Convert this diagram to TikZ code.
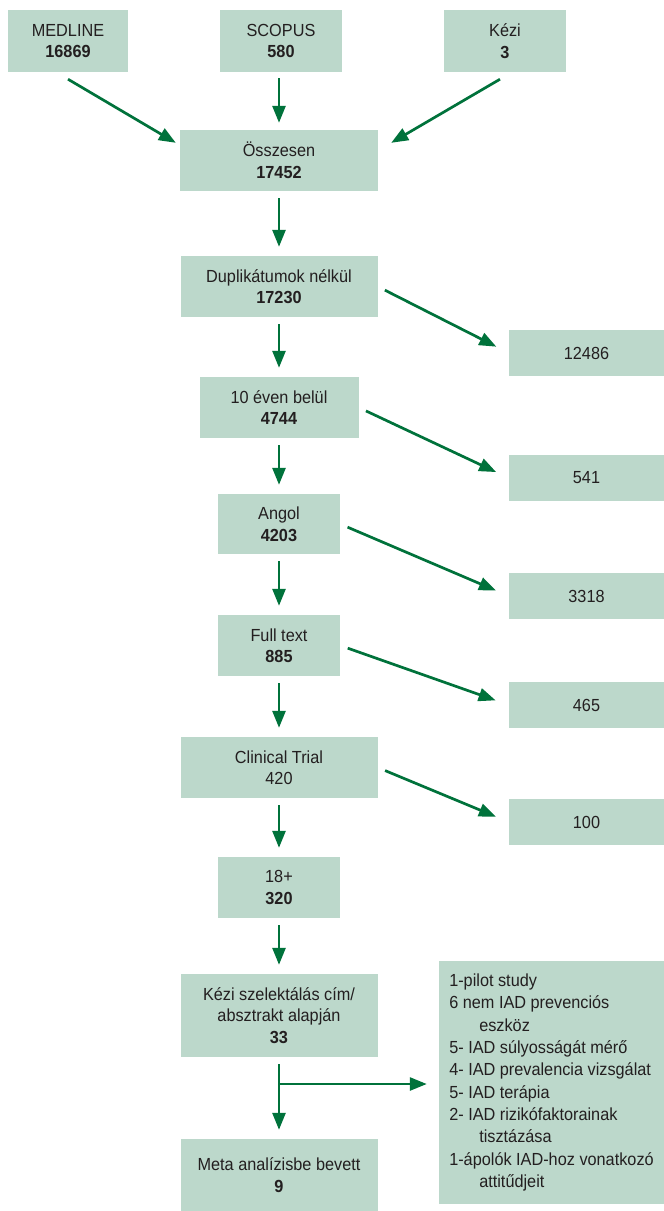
\documentclass[tikz,border=0pt]{standalone}
\usepackage{fontspec}
\setmainfont{Liberation Sans}[FakeStretch=0.93]
\usetikzlibrary{arrows.meta}
\definecolor{boxfill}{HTML}{BCD8CB}
\definecolor{arrowgreen}{HTML}{00723B}
\definecolor{boxtext}{HTML}{231F20}

\begin{document}
\begin{tikzpicture}[x=1pt,y=-1pt,
  box/.style={fill=boxfill,text=boxtext,align=center,inner sep=0pt,font=\fontsize{17.5pt}{21.5pt}\selectfont},
  arr/.style={draw=arrowgreen,line width=2.7pt,-{Triangle[length=17pt,width=13pt]},shorten <=7pt,shorten >=9pt},
  side/.style={arr,shorten <=8pt,shorten >=14pt}]
\useasboundingbox (0,0) rectangle (664,1211);
\node[box,minimum width=120pt,minimum height=62pt] (medline) at (68,41) {MEDLINE\\\textbf{16869}};
\node[box,minimum width=122pt,minimum height=62pt] (scopus) at (281,41) {SCOPUS\\\textbf{580}};
\node[box,minimum width=122pt,minimum height=62pt] (kezi) at (505,41) {Kézi\\\textbf{3}};
\node[box,minimum width=198pt,minimum height=61pt] (sum) at (279,160.5) {Összesen\\\textbf{17452}};
\node[box,minimum width=197pt,minimum height=61pt] (dup) at (279,286.5) {Duplikátumok nélkül\\\textbf{17230}};
\node[box,minimum width=159pt,minimum height=61pt] (ten) at (279,407.5) {10 éven belül\\\textbf{4744}};
\node[box,minimum width=122pt,minimum height=60pt] (angol) at (279,524) {Angol\\\textbf{4203}};
\node[box,minimum width=122pt,minimum height=61pt] (full) at (279,645.5) {Full text\\\textbf{885}};
\node[box,minimum width=197pt,minimum height=61pt] (clin) at (279,767.5) {Clinical Trial\\420};
\node[box,minimum width=122pt,minimum height=61pt] (adult) at (279,887.5) {18+\\\textbf{320}};
\node[box,minimum width=197pt,minimum height=83pt] (sel) at (279,1015.5) {Kézi szelektálás cím/\\absztrakt alapján\\\textbf{33}};
\node[box,minimum width=197pt,minimum height=72pt] (meta) at (279,1175) {Meta analízisbe bevett\\\textbf{9}};
\node[box,minimum width=155pt,minimum height=46pt] (r1) at (586.5,353) {12486};
\node[box,minimum width=155pt,minimum height=46pt] (r2) at (586.5,478) {541};
\node[box,minimum width=155pt,minimum height=46pt] (r3) at (586.5,596) {3318};
\node[box,minimum width=155pt,minimum height=46pt] (r4) at (586.5,705) {465};
\node[box,minimum width=155pt,minimum height=46pt] (r5) at (586.5,822) {100};
\node[box,align=left,minimum width=225pt,minimum height=243pt,font=\fontsize{17.5pt}{22.3pt}\selectfont] (list) at (551.5,1082.5) {1-pilot study\\6 nem IAD prevenciós\\\hspace*{30pt}eszköz\\5- IAD súlyosságát mérő\\4- IAD prevalencia vizsgálat\\5- IAD terápia\\2- IAD rizikófaktorainak\\\hspace*{30pt}tisztázása\\1-ápolók IAD-hoz vonatkozó\\\hspace*{30pt}attitűdjeit};
\coordinate (split) at (279,1084);
\draw[arr,shorten <=0pt,shorten >=0pt] ([yshift=-7pt]medline.south) -- ([xshift=-4pt,yshift=-13pt]sum.north west);
\draw[arr,shorten <=6pt,shorten >=7pt] (scopus.south -| sum.north) -- (sum.north);
\draw[arr,shorten <=0pt,shorten >=0pt] ([xshift=-5pt,yshift=-7pt]kezi.south) -- ([xshift=13pt,yshift=-13pt]sum.north east);
\draw[arr] (sum) -- (dup);
\draw[arr] (dup) -- (ten);
\draw[arr] (ten) -- (angol);
\draw[arr] (angol) -- (full);
\draw[arr] (full) -- (clin);
\draw[arr] (clin) -- (adult);
\draw[arr] (adult) -- (sel);
\draw[arr] (sel) -- (meta);
\draw[side] (dup.east) -- (r1.west);
\draw[side] (ten.east) -- (r2.west);
\draw[side] (angol.east) -- (r3.west);
\draw[side] (full.east) -- (r4.west);
\draw[side] (clin.east) -- (r5.west);
\draw[arr,shorten <=0pt,shorten >=12pt] (split) -- (split -| list.west);
\end{tikzpicture}
\end{document}
